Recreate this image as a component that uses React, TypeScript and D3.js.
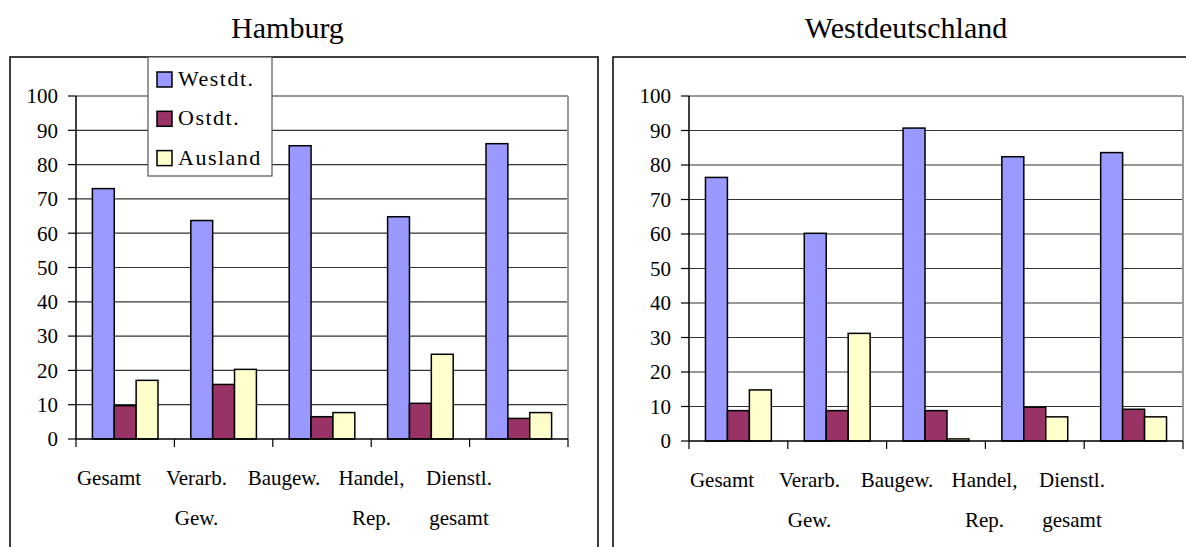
import React from "react";
import * as d3 from "d3";

const categories: string[][] = [
  ["Gesamt"],
  ["Verarb.", "Gew."],
  ["Baugew."],
  ["Handel,", "Rep."],
  ["Dienstl.", "gesamt"],
];
const seriesNames = ["Westdt.", "Ostdt.", "Ausland"];
const seriesColors = ["#9999FF", "#993366", "#FFFFCC"];

const hamburgWest = [73.0, 63.7, 85.5, 64.8, 86.1];
const hamburgOst = [9.7, 15.9, 6.5, 10.4, 6.0];
const hamburgAusland = [17.1, 20.3, 7.7, 24.7, 7.7];

const westWest = [76.4, 60.2, 90.7, 82.4, 83.6];
const westOst = [8.8, 8.8, 8.8, 9.8, 9.2];
const westAusland = [14.8, 31.2, 0.6, 7.0, 7.0];

const yTicks = [0, 10, 20, 30, 40, 50, 60, 70, 80, 90, 100];

const FONT = "'Liberation Serif', 'Times New Roman', serif";

type PanelProps = {
  title: string;
  titleX: number;
  frameX: number;
  frameW: number;
  x0: number;
  x1: number;
  yTop: number;
  yBottom: number;
  values: number[][];
  legend?: boolean;
};

function Panel({ title, titleX, frameX, frameW, x0, x1, yTop, yBottom, values, legend }: PanelProps) {
  const idx = categories.map((_, i) => String(i));
  const x = d3.scaleBand<string>().domain(idx).range([x0, x1]).paddingInner(0).paddingOuter(0);
  const catW = x.bandwidth();
  const barW = catW / 4.5;
  const sub = d3
    .scaleBand<string>()
    .domain(seriesNames)
    .range([0.75 * barW, 0.75 * barW + 3 * barW]);
  const y = d3.scaleLinear().domain([0, 100]).range([yBottom, yTop]);
  const labelX = d3
    .scalePoint<string>()
    .domain(idx)
    .range([x0 + 33, x0 + 33 + 4 * 87.5]);
  const boundaries = d3.range(categories.length + 1).map((i) => x0 + i * catW);

  return (
    <g>
      <text x={titleX} y={38} textAnchor="middle" fontFamily={FONT} fontSize={30} fill="#000">
        {title}
      </text>
      <rect x={frameX} y={57} width={frameW} height={600} fill="none" stroke="#000" strokeWidth={1.5} />
      {/* gridlines */}
      {yTicks.slice(1).map((t) => (
        <line key={t} x1={x0} x2={x1} y1={y(t)} y2={y(t)} stroke="#333" strokeWidth={1.2} />
      ))}
      <line x1={x1} x2={x1} y1={yTop} y2={yBottom} stroke="#999" strokeWidth={2} />
      {/* bars */}
      {values.map((vals, s) =>
        vals.map((v, i) => (
          <rect
            key={s + "-" + i}
            x={(x(String(i)) as number) + (sub(seriesNames[s]) as number)}
            y={y(v)}
            width={sub.bandwidth()}
            height={yBottom - y(v)}
            fill={seriesColors[s]}
            stroke="#000"
            strokeWidth={1.5}
          />
        ))
      )}
      {/* axes */}
      <line x1={x0} x2={x0} y1={yTop} y2={yBottom} stroke="#000" strokeWidth={1.5} />
      <line x1={x0} x2={x1} y1={yBottom} y2={yBottom} stroke="#000" strokeWidth={1.5} />
      {yTicks.map((t) => (
        <g key={"yt" + t}>
          <line x1={x0 - 8} x2={x0} y1={y(t)} y2={y(t)} stroke="#000" strokeWidth={1.2} />
          <text
            x={x0 - 18}
            y={y(t)}
            dy="0.35em"
            textAnchor="end"
            fontFamily={FONT}
            fontSize={21}
            fill="#000"
          >
            {t}
          </text>
        </g>
      ))}
      {boundaries.map((bx, i) => (
        <line key={"xt" + i} x1={bx} x2={bx} y1={yBottom} y2={yBottom + 8} stroke="#000" strokeWidth={1.2} />
      ))}
      {categories.map((lines, i) => (
        <text
          key={"cl" + i}
          textAnchor="middle"
          fontFamily={FONT}
          fontSize={21}
          fill="#000"
        >
          {lines.map((ln, j) => (
            <tspan key={j} x={labelX(String(i))} y={yBottom + 46 + j * 40}>
              {ln}
            </tspan>
          ))}
        </text>
      ))}
      {legend && (
        <g>
          <rect x={148} y={57} width={124} height={119} fill="#fff" stroke="#555" strokeWidth={1.2} />
          {seriesNames.map((n, s) => (
            <g key={n}>
              <rect
                x={157}
                y={72 + s * 39.3}
                width={15}
                height={15}
                fill={seriesColors[s]}
                stroke="#000"
                strokeWidth={1.5}
              />
              <text
                x={178}
                y={86 + s * 39.3}
                fontFamily={FONT}
                fontSize={22}
                letterSpacing={1.5}
                fill="#000"
              >
                {n}
              </text>
            </g>
          ))}
        </g>
      )}
    </g>
  );
}

export default function App() {
  return (
    <svg
      width={1186}
      height={547}
      style={{ position: "absolute", left: 0, top: 0, background: "#fff" }}
    >
      <rect x={0} y={0} width={1186} height={547} fill="#fff" />
      <Panel
        title="Hamburg"
        titleX={287.5}
        frameX={10}
        frameW={588}
        x0={76}
        x1={568}
        yTop={96}
        yBottom={439}
        values={[hamburgWest, hamburgOst, hamburgAusland]}
        legend
      />
      <Panel
        title="Westdeutschland"
        titleX={906}
        frameX={613}
        frameW={600}
        x0={689}
        x1={1183}
        yTop={96}
        yBottom={441}
        values={[westWest, westOst, westAusland]}
      />
    </svg>
  );
}
